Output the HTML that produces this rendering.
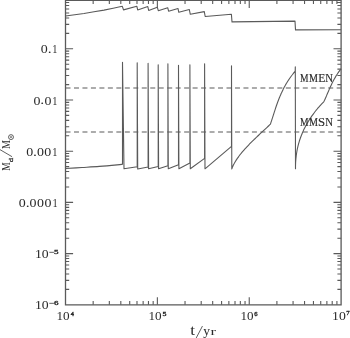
<!DOCTYPE html>
<html><head><meta charset="utf-8"><style>
html,body{margin:0;padding:0;background:#fff;width:350px;height:338px;overflow:hidden}
svg{display:block}
text{font-family:"Liberation Serif",serif}
svg{will-change:transform}
</style></head><body>
<svg width="350" height="338" viewBox="0 0 350 338">
<rect width="350" height="338" fill="#fff"/>
<path d="M65.5,0.35H341.1V304.8H65.5Z" fill="none" stroke="#5a5a5a" stroke-width="1.3"/>
<path d="M65.5,289.39h3.7M341.1,289.39h-3.7M65.5,280.37h3.7M341.1,280.37h-3.7M65.5,273.97h3.7M341.1,273.97h-3.7M65.5,269.01h3.7M341.1,269.01h-3.7M65.5,264.96h3.7M341.1,264.96h-3.7M65.5,261.53h3.7M341.1,261.53h-3.7M65.5,258.56h3.7M341.1,258.56h-3.7M65.5,255.94h3.7M341.1,255.94h-3.7M65.5,253.6h7.6M341.1,253.6h-7.6M65.5,238.19h3.7M341.1,238.19h-3.7M65.5,229.17h3.7M341.1,229.17h-3.7M65.5,222.77h3.7M341.1,222.77h-3.7M65.5,217.81h3.7M341.1,217.81h-3.7M65.5,213.76h3.7M341.1,213.76h-3.7M65.5,210.33h3.7M341.1,210.33h-3.7M65.5,207.36h3.7M341.1,207.36h-3.7M65.5,204.74h3.7M341.1,204.74h-3.7M65.5,202.4h7.6M341.1,202.4h-7.6M65.5,186.99h3.7M341.1,186.99h-3.7M65.5,177.97h3.7M341.1,177.97h-3.7M65.5,171.57h3.7M341.1,171.57h-3.7M65.5,166.61h3.7M341.1,166.61h-3.7M65.5,162.56h3.7M341.1,162.56h-3.7M65.5,159.13h3.7M341.1,159.13h-3.7M65.5,156.16h3.7M341.1,156.16h-3.7M65.5,153.54h3.7M341.1,153.54h-3.7M65.5,151.2h7.6M341.1,151.2h-7.6M65.5,135.79h3.7M341.1,135.79h-3.7M65.5,126.77h3.7M341.1,126.77h-3.7M65.5,120.37h3.7M341.1,120.37h-3.7M65.5,115.41h3.7M341.1,115.41h-3.7M65.5,111.36h3.7M341.1,111.36h-3.7M65.5,107.93h3.7M341.1,107.93h-3.7M65.5,104.96h3.7M341.1,104.96h-3.7M65.5,102.34h3.7M341.1,102.34h-3.7M65.5,100.0h7.6M341.1,100.0h-7.6M65.5,84.59h3.7M341.1,84.59h-3.7M65.5,75.57h3.7M341.1,75.57h-3.7M65.5,69.17h3.7M341.1,69.17h-3.7M65.5,64.21h3.7M341.1,64.21h-3.7M65.5,60.16h3.7M341.1,60.16h-3.7M65.5,56.73h3.7M341.1,56.73h-3.7M65.5,53.76h3.7M341.1,53.76h-3.7M65.5,51.14h3.7M341.1,51.14h-3.7M65.5,48.8h7.6M341.1,48.8h-7.6M65.5,33.39h3.7M341.1,33.39h-3.7M65.5,24.37h3.7M341.1,24.37h-3.7M65.5,17.97h3.7M341.1,17.97h-3.7M65.5,13.01h3.7M341.1,13.01h-3.7M65.5,8.96h3.7M341.1,8.96h-3.7M65.5,5.53h3.7M341.1,5.53h-3.7M65.5,2.56h3.7M341.1,2.56h-3.7M65.5,-0.06h3.7M341.1,-0.06h-3.7M93.16,304.8v-3.7M93.16,0.35v3.7M109.33,304.8v-3.7M109.33,0.35v3.7M120.81,304.8v-3.7M120.81,0.35v3.7M129.71,304.8v-3.7M129.71,0.35v3.7M136.99,304.8v-3.7M136.99,0.35v3.7M143.14,304.8v-3.7M143.14,0.35v3.7M148.47,304.8v-3.7M148.47,0.35v3.7M153.17,304.8v-3.7M153.17,0.35v3.7M157.37,304.8v-7.6M157.37,0.35v7.6M185.03,304.8v-3.7M185.03,0.35v3.7M201.2,304.8v-3.7M201.2,0.35v3.7M212.68,304.8v-3.7M212.68,0.35v3.7M221.58,304.8v-3.7M221.58,0.35v3.7M228.86,304.8v-3.7M228.86,0.35v3.7M235.01,304.8v-3.7M235.01,0.35v3.7M240.34,304.8v-3.7M240.34,0.35v3.7M245.04,304.8v-3.7M245.04,0.35v3.7M249.24,304.8v-7.6M249.24,0.35v7.6M276.9,304.8v-3.7M276.9,0.35v3.7M293.07,304.8v-3.7M293.07,0.35v3.7M304.55,304.8v-3.7M304.55,0.35v3.7M313.45,304.8v-3.7M313.45,0.35v3.7M320.73,304.8v-3.7M320.73,0.35v3.7M326.88,304.8v-3.7M326.88,0.35v3.7M332.21,304.8v-3.7M332.21,0.35v3.7M336.91,304.8v-3.7M336.91,0.35v3.7" fill="none" stroke="#5a5a5a" stroke-width="1.1"/>
<path d="M65.5,88.0H341.1M65.5,132.0H341.1" fill="none" stroke="#5a5a5a" stroke-width="1.2" stroke-dasharray="5 3.474"/>
<path d="M65.5,16.0C71.67,15.17 77.83,14.33 84,13.5C90.67,12.37 97.33,11.23 104,10.1C110.1,8.83 116.2,7.57 122.3,6.3L122.35,6.3L123.5,9.9L136.8,6.2L137.7,9.9L147.8,6.6L148.7,10.5L157.3,7.2L158.3,10.7L167.7,7.7L168.6,11.2L178.0,8.5L178.8,12.3L189.3,9.5L190.3,14.3L204.3,11.6L205.2,16.5L231.4,14.3L232.0,21.85L295.0,21.15L295.5,29.9L341.1,29.7" fill="none" stroke="#5a5a5a" stroke-width="1.1" stroke-linejoin="round"/>
<path d="M65.5,168.5C68.25,168.33 76.35,167.85 82.00,167.50C87.65,167.15 93.55,166.83 99.40,166.40C105.25,165.97 113.25,165.25 117.10,164.90C120.95,164.55 121.60,164.40 122.50,164.30L122.5,62.2L124.0,168.8L137.2,166.8L137.2,62.8L137.7,169.0L148.1,167.0L148.1,63.4L148.6,168.8L158.2,166.5L158.2,64.8L158.6,168.7L167.9,165.7L167.9,63.8L168.3,168.8L178.5,164.7L178.5,65.2L178.9,168.8L189.9,162.9L189.9,64.8L190.3,168.8L204.6,158.4L204.6,63.8L205.0,168.8L231.5,146.3L231.5,65.9L231.8,168.9C231.90,168.64 232.17,167.87 232.38,167.36C232.59,166.85 232.81,166.33 233.05,165.82C233.29,165.31 233.54,164.80 233.80,164.28C234.06,163.76 234.34,163.25 234.63,162.73C234.92,162.21 235.22,161.70 235.53,161.19C235.84,160.68 236.16,160.16 236.50,159.65C236.84,159.14 237.18,158.62 237.54,158.11C237.90,157.60 238.27,157.08 238.65,156.57C239.03,156.06 239.41,155.54 239.81,155.03C240.21,154.52 240.61,154.00 241.03,153.49C241.45,152.98 241.88,152.45 242.31,151.94C242.74,151.43 243.18,150.91 243.63,150.40C244.08,149.89 244.53,149.37 245.00,148.86C245.47,148.35 245.94,147.83 246.42,147.32C246.90,146.81 247.38,146.29 247.87,145.78C248.36,145.27 248.86,144.75 249.36,144.24C249.86,143.73 250.37,143.21 250.88,142.70C251.39,142.19 251.91,141.67 252.43,141.16C252.95,140.65 253.48,140.12 254.01,139.61C254.54,139.10 255.06,138.58 255.60,138.07C256.13,137.56 256.68,137.04 257.22,136.53C257.76,136.02 258.30,135.50 258.85,134.99C259.40,134.48 259.95,133.96 260.50,133.45C261.05,132.94 261.60,132.42 262.15,131.91C262.70,131.40 263.25,130.88 263.80,130.37C264.35,129.86 264.91,129.33 265.46,128.82C266.01,128.31 266.56,127.79 267.11,127.28C267.66,126.77 268.21,126.25 268.76,125.74C269.31,125.23 270.13,124.46 270.40,124.20C270.49,123.95 270.74,123.19 270.91,122.69C271.08,122.19 271.25,121.67 271.41,121.17C271.58,120.67 271.74,120.16 271.90,119.66C272.06,119.16 272.22,118.64 272.38,118.14C272.54,117.64 272.71,117.13 272.87,116.63C273.03,116.12 273.19,115.61 273.35,115.11C273.51,114.61 273.67,114.10 273.83,113.60C273.99,113.10 274.15,112.59 274.31,112.09C274.47,111.59 274.63,111.07 274.80,110.57C274.97,110.06 275.13,109.56 275.30,109.06C275.47,108.56 275.63,108.05 275.80,107.54C275.97,107.04 276.14,106.53 276.31,106.03C276.48,105.53 276.66,105.02 276.84,104.51C277.02,104.01 277.20,103.50 277.38,103.00C277.56,102.50 277.74,101.99 277.93,101.49C278.12,100.98 278.31,100.47 278.50,99.97C278.69,99.47 278.89,98.96 279.09,98.46C279.29,97.95 279.50,97.44 279.71,96.94C279.92,96.44 280.12,95.94 280.34,95.43C280.55,94.93 280.77,94.41 281.00,93.91C281.23,93.41 281.45,92.90 281.69,92.40C281.93,91.90 282.17,91.39 282.41,90.89C282.65,90.39 282.90,89.88 283.15,89.37C283.40,88.87 283.66,88.36 283.93,87.86C284.20,87.36 284.47,86.84 284.75,86.34C285.03,85.84 285.31,85.33 285.60,84.83C285.89,84.33 286.19,83.81 286.49,83.31C286.79,82.81 287.10,82.30 287.42,81.80C287.74,81.30 288.06,80.80 288.39,80.29C288.72,79.79 289.05,79.27 289.40,78.77C289.75,78.27 290.10,77.77 290.46,77.26C290.82,76.76 291.19,76.24 291.57,75.74C291.95,75.23 292.34,74.73 292.73,74.23C293.12,73.73 293.53,73.21 293.94,72.71C294.35,72.20 294.99,71.45 295.20,71.20L295.3,66.9L295.5,168.8C295.50,168.55 295.50,167.78 295.50,167.27C295.50,166.76 295.51,166.26 295.52,165.75C295.53,165.24 295.54,164.73 295.56,164.22C295.58,163.71 295.60,163.20 295.62,162.69C295.64,162.18 295.67,161.67 295.71,161.16C295.75,160.65 295.79,160.15 295.83,159.64C295.87,159.13 295.91,158.62 295.96,158.11C296.01,157.60 296.07,157.09 296.13,156.58C296.19,156.07 296.25,155.56 296.32,155.05C296.39,154.54 296.45,154.04 296.53,153.53C296.61,153.02 296.69,152.51 296.78,152.00C296.87,151.49 296.95,150.98 297.05,150.47C297.15,149.96 297.25,149.46 297.35,148.95C297.46,148.44 297.56,147.93 297.68,147.42C297.80,146.91 297.92,146.40 298.04,145.89C298.17,145.38 298.30,144.87 298.43,144.36C298.56,143.85 298.71,143.35 298.85,142.84C299.00,142.33 299.15,141.82 299.30,141.31C299.45,140.80 299.61,140.29 299.78,139.78C299.95,139.27 300.12,138.76 300.30,138.25C300.48,137.74 300.66,137.24 300.85,136.73C301.04,136.22 301.23,135.71 301.43,135.20C301.63,134.69 301.84,134.18 302.05,133.67C302.26,133.16 302.48,132.66 302.70,132.15C302.92,131.64 303.15,131.13 303.38,130.62C303.61,130.11 303.85,129.60 304.10,129.09C304.35,128.58 304.60,128.07 304.86,127.56C305.12,127.05 305.39,126.55 305.66,126.04C305.93,125.53 306.21,125.02 306.49,124.51C306.77,124.00 307.06,123.49 307.36,122.98C307.66,122.47 307.97,121.96 308.28,121.45C308.59,120.94 308.90,120.44 309.22,119.93C309.54,119.42 309.87,118.91 310.21,118.40C310.55,117.89 310.89,117.38 311.24,116.87C311.59,116.36 311.95,115.86 312.32,115.35C312.69,114.84 313.05,114.33 313.43,113.82C313.81,113.31 314.19,112.80 314.58,112.29C314.97,111.78 315.37,111.27 315.78,110.76C316.19,110.25 316.60,109.75 317.02,109.24C317.44,108.73 317.87,108.22 318.31,107.71C318.75,107.20 319.19,106.69 319.64,106.18C320.09,105.67 320.54,105.16 321.01,104.65C321.48,104.14 321.95,103.64 322.43,103.13C322.91,102.62 323.65,101.85 323.90,101.60C324.02,101.34 324.38,100.56 324.62,100.04C324.86,99.52 325.09,99.00 325.32,98.48C325.55,97.96 325.77,97.43 326.00,96.91C326.23,96.39 326.46,95.87 326.68,95.35C326.90,94.83 327.12,94.31 327.34,93.79C327.56,93.27 327.79,92.75 328.01,92.23C328.23,91.71 328.45,91.19 328.68,90.67C328.91,90.15 329.13,89.62 329.36,89.10C329.59,88.58 329.82,88.06 330.06,87.54C330.30,87.02 330.53,86.50 330.77,85.98C331.01,85.46 331.25,84.94 331.50,84.42C331.75,83.90 332.00,83.38 332.26,82.86C332.52,82.34 332.78,81.82 333.05,81.30C333.32,80.78 333.60,80.25 333.88,79.73C334.16,79.21 334.45,78.69 334.75,78.17C335.05,77.65 335.36,77.13 335.67,76.61C335.98,76.09 336.30,75.57 336.63,75.05C336.96,74.53 337.31,74.01 337.66,73.49C338.01,72.97 338.37,72.44 338.74,71.92C339.11,71.40 339.49,70.88 339.88,70.36C340.27,69.84 340.90,69.06 341.10,68.80" fill="none" stroke="#5a5a5a" stroke-width="1.1" stroke-linejoin="round"/>
<g transform="matrix(1.0727 0 0 1.0000 40.714 53.300)"><text x="0" y="0" font-size="13" font-family="Liberation Serif" fill="#2a2a2a">0</text></g>
<g transform="matrix(1.2000 0 0 1.0000 47.650 53.050)"><text x="0" y="0" font-size="13" font-family="Liberation Serif" fill="#2a2a2a">.</text></g>
<g transform="matrix(0.8000 0 0 1.0000 52.250 53.300)"><text x="0" y="0" font-size="13" font-family="Liberation Serif" fill="#2a2a2a">1</text></g>
<g transform="matrix(1.0727 0 0 1.0118 33.414 104.500)"><text x="0" y="0" font-size="13" font-family="Liberation Serif" fill="#2a2a2a">0</text></g>
<g transform="matrix(1.2000 0 0 1.0000 40.350 104.250)"><text x="0" y="0" font-size="13" font-family="Liberation Serif" fill="#2a2a2a">.</text></g>
<g transform="matrix(1.0727 0 0 1.0118 44.414 104.500)"><text x="0" y="0" font-size="13" font-family="Liberation Serif" fill="#2a2a2a">0</text></g>
<g transform="matrix(0.8000 0 0 1.0118 52.200 104.500)"><text x="0" y="0" font-size="13" font-family="Liberation Serif" fill="#2a2a2a">1</text></g>
<g transform="matrix(1.0727 0 0 1.0235 26.164 156.100)"><text x="0" y="0" font-size="13" font-family="Liberation Serif" fill="#2a2a2a">0</text></g>
<g transform="matrix(1.2000 0 0 1.0000 33.100 155.850)"><text x="0" y="0" font-size="13" font-family="Liberation Serif" fill="#2a2a2a">.</text></g>
<g transform="matrix(1.0727 0 0 1.0235 37.014 156.100)"><text x="0" y="0" font-size="13" font-family="Liberation Serif" fill="#2a2a2a">0</text></g>
<g transform="matrix(1.0727 0 0 1.0235 44.314 156.100)"><text x="0" y="0" font-size="13" font-family="Liberation Serif" fill="#2a2a2a">0</text></g>
<g transform="matrix(0.8000 0 0 1.0235 52.300 156.100)"><text x="0" y="0" font-size="13" font-family="Liberation Serif" fill="#2a2a2a">1</text></g>
<g transform="matrix(1.0727 0 0 1.0353 18.764 206.800)"><text x="0" y="0" font-size="13" font-family="Liberation Serif" fill="#2a2a2a">0</text></g>
<g transform="matrix(1.2000 0 0 1.0000 25.650 206.550)"><text x="0" y="0" font-size="13" font-family="Liberation Serif" fill="#2a2a2a">.</text></g>
<g transform="matrix(1.0727 0 0 1.0353 29.614 206.800)"><text x="0" y="0" font-size="13" font-family="Liberation Serif" fill="#2a2a2a">0</text></g>
<g transform="matrix(1.0727 0 0 1.0353 37.014 206.800)"><text x="0" y="0" font-size="13" font-family="Liberation Serif" fill="#2a2a2a">0</text></g>
<g transform="matrix(1.0727 0 0 1.0353 44.564 206.800)"><text x="0" y="0" font-size="13" font-family="Liberation Serif" fill="#2a2a2a">0</text></g>
<g transform="matrix(0.8000 0 0 1.0353 52.400 206.800)"><text x="0" y="0" font-size="13" font-family="Liberation Serif" fill="#2a2a2a">1</text></g>
<g transform="matrix(1.0578 0 0 0.9647 34.878 257.900)"><text x="0" y="0" font-size="13" font-family="Liberation Serif" fill="#2a2a2a">10</text></g>
<g transform="matrix(1.1273 0 0 0.6957 48.918 254.326)"><text x="0" y="0" font-size="8" font-family="Liberation Serif" fill="#2a2a2a" stroke="#2a2a2a" stroke-width="0.45">−5</text></g>
<g transform="matrix(1.0578 0 0 0.9647 34.878 308.900)"><text x="0" y="0" font-size="13" font-family="Liberation Serif" fill="#2a2a2a">10</text></g>
<g transform="matrix(1.1273 0 0 0.6957 48.918 305.326)"><text x="0" y="0" font-size="8" font-family="Liberation Serif" fill="#2a2a2a" stroke="#2a2a2a" stroke-width="0.45">−6</text></g>
<g transform="matrix(1.0133 0 0 1.0000 56.533 319.800)"><text x="0" y="0" font-size="13" font-family="Liberation Serif" fill="#2a2a2a">10</text></g>
<g transform="matrix(0.8000 0 0 0.7652 70.700 316.209)"><text x="0" y="0" font-size="8" font-family="Liberation Serif" fill="#2a2a2a" stroke="#2a2a2a" stroke-width="0.45">4</text></g>
<g transform="matrix(1.0133 0 0 1.0000 148.533 319.800)"><text x="0" y="0" font-size="13" font-family="Liberation Serif" fill="#2a2a2a">10</text></g>
<g transform="matrix(0.9867 0 0 0.8870 162.453 316.178)"><text x="0" y="0" font-size="8" font-family="Liberation Serif" fill="#2a2a2a" stroke="#2a2a2a" stroke-width="0.45">5</text></g>
<g transform="matrix(1.0044 0 0 1.0000 240.544 319.800)"><text x="0" y="0" font-size="13" font-family="Liberation Serif" fill="#2a2a2a">10</text></g>
<g transform="matrix(0.8267 0 0 0.8870 254.293 316.178)"><text x="0" y="0" font-size="8" font-family="Liberation Serif" fill="#2a2a2a" stroke="#2a2a2a" stroke-width="0.45">6</text></g>
<g transform="matrix(1.0578 0 0 0.9882 332.078 319.700)"><text x="0" y="0" font-size="13" font-family="Liberation Serif" fill="#2a2a2a">10</text></g>
<g transform="matrix(0.8533 0 0 0.7652 346.187 315.309)"><text x="0" y="0" font-size="8" font-family="Liberation Serif" fill="#2a2a2a" stroke="#2a2a2a" stroke-width="0.45">7</text></g>
<g transform="matrix(1.3231 0 0 1.1862 190.269 335.300)"><text x="0" y="0" font-size="13" font-family="Liberation Serif" fill="#2a2a2a">t</text></g>
<g transform="matrix(1.0400 0 0 0.8800 203.140 335.380)"><text x="0" y="0" font-size="13" font-family="Liberation Serif" fill="#2a2a2a">y</text></g>
<g transform="matrix(1.2750 0 0 0.8667 210.381 335.300)"><text x="0" y="0" font-size="13" font-family="Liberation Serif" fill="#2a2a2a">r</text></g>
<g transform="matrix(0.8000 0 0 1.0250 299.900 82.300)"><text x="0" y="0" font-size="12" font-family="Liberation Serif" fill="#2a2a2a" stroke="#2a2a2a" stroke-width="0.15">M</text></g>
<g transform="matrix(0.8390 0 0 1.0250 309.090 82.300)"><text x="0" y="0" font-size="12" font-family="Liberation Serif" fill="#2a2a2a" stroke="#2a2a2a" stroke-width="0.15">M</text></g>
<g transform="matrix(0.9692 0 0 1.0250 318.358 82.300)"><text x="0" y="0" font-size="12" font-family="Liberation Serif" fill="#2a2a2a" stroke="#2a2a2a" stroke-width="0.15">E</text></g>
<g transform="matrix(0.8970 0 0 1.0250 325.276 82.300)"><text x="0" y="0" font-size="12" font-family="Liberation Serif" fill="#2a2a2a" stroke="#2a2a2a" stroke-width="0.15">N</text></g>
<g transform="matrix(0.8000 0 0 1.0375 300.000 125.900)"><text x="0" y="0" font-size="12" font-family="Liberation Serif" fill="#2a2a2a" stroke="#2a2a2a" stroke-width="0.15">M</text></g>
<g transform="matrix(0.8390 0 0 1.0375 309.090 125.900)"><text x="0" y="0" font-size="12" font-family="Liberation Serif" fill="#2a2a2a" stroke="#2a2a2a" stroke-width="0.15">M</text></g>
<g transform="matrix(1.0667 0 0 1.0303 317.900 125.742)"><text x="0" y="0" font-size="12" font-family="Liberation Serif" fill="#2a2a2a" stroke="#2a2a2a" stroke-width="0.15">S</text></g>
<g transform="matrix(0.8970 0 0 1.0375 325.276 125.900)"><text x="0" y="0" font-size="12" font-family="Liberation Serif" fill="#2a2a2a" stroke="#2a2a2a" stroke-width="0.15">N</text></g>
<g transform="matrix(1.0323 0 0 0.7897 9.600 170.695)"><g transform="rotate(-90)"><text x="0" y="0" font-size="12" font-family="Liberation Serif" fill="#2a2a2a">M</text></g></g>
<g transform="matrix(0.8667 0 0 1.1200 13.383 162.180)"><g transform="rotate(-90)"><text x="0" y="0" font-size="8" font-family="Liberation Serif" fill="#2a2a2a" stroke="#2a2a2a" stroke-width="0.35">d</text></g></g>
<g transform="matrix(1.0323 0 0 0.8410 9.600 149.121)"><g transform="rotate(-90)"><text x="0" y="0" font-size="12" font-family="Liberation Serif" fill="#2a2a2a">M</text></g></g>
<circle cx="11.0" cy="137.1" r="2.45" fill="none" stroke="#2a2a2a" stroke-width="0.75"/><circle cx="11.0" cy="137.1" r="0.8" fill="#2a2a2a"/>
<path d="M-0.6,149.3L11.7,156.5M202.3,326.4L195.9,338.6" stroke="#444" stroke-width="0.85" fill="none" stroke-linecap="round"/>
</svg>
</body></html>
